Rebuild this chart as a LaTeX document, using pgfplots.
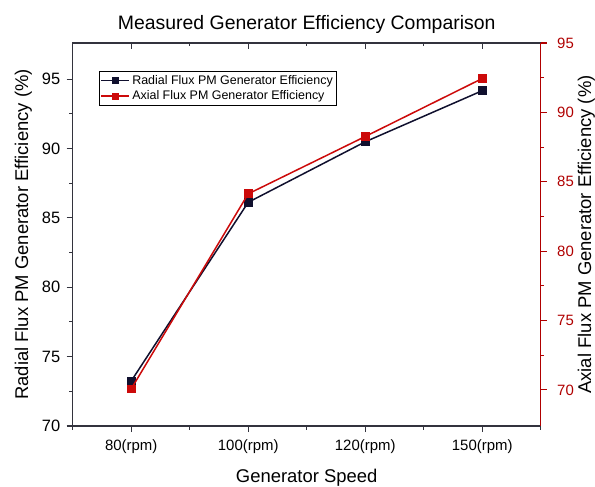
\documentclass[border=0pt]{standalone}
\usepackage{fontspec}
\setmainfont{Liberation Sans}
\usepackage{pgfplots}
\pgfplotsset{compat=1.18}
\definecolor{axgray}{HTML}{33333D}
\definecolor{radial}{HTML}{10102E}
\definecolor{axial}{HTML}{CC0A0A}
\definecolor{axred}{HTML}{B00000}

\begin{document}
\begin{tikzpicture}
\pgfplotsset{
  every axis/.append style={
    scale only axis, width=468bp, height=383bp,
    xmin=-0.5, xmax=3.5,
    tick label style={font=\fontsize{15}{18}\selectfont},
    label style={font=\fontsize{18.5}{22}\selectfont},
    /pgf/number format/assume math mode=true,
    major tick length=6bp, minor tick length=3.5bp,
    tick style={line width=1.1bp},
  }
}
% left axis: radial flux
\begin{axis}[
  axis line style={axgray, line width=1.3bp},
  tick style={axgray},
  ymin=70, ymax=97.6,
  ytick={70,75,80,85,90,95},
  minor ytick={72.5,77.5,82.5,87.5,92.5},
  xtick={0,1,2,3},
  xticklabels={80(rpm),100(rpm),120(rpm),150(rpm)},
  minor xtick={-0.5,0.5,1.5,2.5,3.5},
  xtick pos=left, ytick pos=left,
  tick align=outside,
  y tick label style={font=\fontsize{16.5}{18}\selectfont, xshift=-3bp},
  x tick label style={yshift=-4bp},
  title={Measured Generator Efficiency Comparison},
  title style={font=\fontsize{19.5}{23}\selectfont, at={(0.5,1)}, anchor=base, yshift=8bp},
  xlabel={Generator Speed},
  xlabel style={yshift=-9bp},
  ylabel={Radial Flux PM Generator Efficiency (\%)},
  ylabel style={yshift=3bp},
  legend style={at={(0.056,0.927)}, anchor=north west, draw=black,
    font=\fontsize{12.5}{14}\selectfont, inner xsep=1.5bp, inner ysep=2bp,
    row sep=1bp, cells={anchor=west}},
  legend image code/.code={
    \draw[#1, line width=1.7bp] (0bp,0bp) -- (28bp,0bp);
    \fill[#1] (11.2bp,-2.8bp) rectangle (16.8bp,2.8bp);},
]
\addlegendimage{radial}
\addlegendentry{Radial Flux PM Generator Efficiency}
\addlegendimage{axial}
\addlegendentry{Axial Flux PM Generator Efficiency}
\addplot[radial, line width=1.5bp, mark=square*, mark size=3.6bp] coordinates {
  (0,73.24) (1,86.12) (2,90.48) (3,94.16)};
\coordinate (bl) at (rel axis cs:0,0);
\end{axis}
% top ticks pointing inward
\begin{axis}[
  hide y axis,
  axis x line*=top,
  axis line style={axgray, line width=1.3bp, -},
  tick style={axgray},
  ymin=0, ymax=1,
  xtick={0,1,2,3}, xticklabels={},
  minor xtick={-0.5,0.5,1.5,2.5,3.5},
  tick align=inside,
]
\end{axis}
% right axis: axial flux
\begin{axis}[
  hide x axis,
  axis y line*=right,
  axis line style={axred, line width=1.3bp, -},
  tick style={axred},
  y tick label style={text=axred, xshift=7bp},
  ymin=67.4, ymax=95,
  ytick={70,75,80,85,90,95},
  minor ytick={72.5,77.5,82.5,87.5,92.5},
  tick align=outside,
  ylabel={Axial Flux PM Generator Efficiency (\%)},
  ylabel style={yshift=3bp},
]
\addplot[axial, line width=1.5bp, mark=square*, mark size=3.6bp] coordinates {
  (0,70.07) (1,84.13) (2,88.26) (3,92.44)};
\end{axis}
\pgfresetboundingbox
\path ([shift={(-72.7bp,-61bp)}]bl) rectangle ([shift={(522.3bp,426bp)}]bl);
\end{tikzpicture}
\end{document}
